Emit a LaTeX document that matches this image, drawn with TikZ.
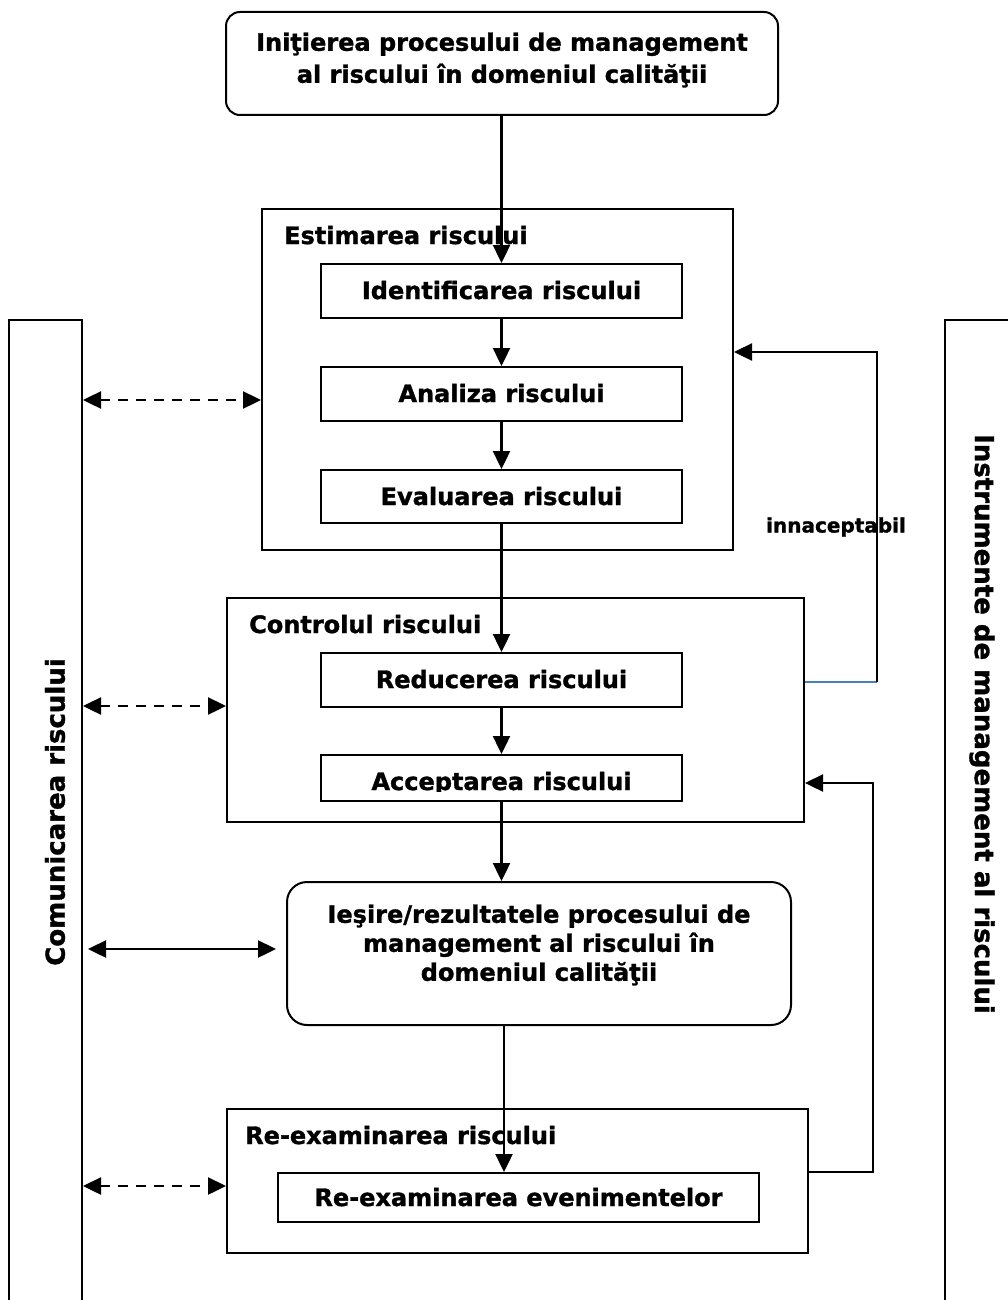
\documentclass[tikz,border=0pt]{standalone}
\usepackage{fontspec}
\setmainfont{DejaVu Sans}[BoldFeatures={FakeBold=1.3}]
\usetikzlibrary{arrows.meta}
\begin{document}
\begin{tikzpicture}[x=1pt,y=-1pt,
  box/.style={draw,line width=2pt,inner sep=0pt},
  rbox/.style={box,rounded corners=14pt},
  txt/.style={font=\fontsize{24}{30}\selectfont\bfseries,inner sep=0pt},
  arr/.style={line width=2.4pt,-{Triangle[length=18pt,width=17pt]}},
  darr/.style={line width=2.4pt,{Triangle[length=18pt,width=17pt]}-{Triangle[length=18pt,width=17pt]}},
  dashline/.style={dash pattern=on 10pt off 8pt}
]
\clip (0,0) rectangle (1008,1300);
\fill[white] (0,0) rectangle (1008,1300);

% top box
\node[rbox,minimum width=552pt,minimum height=103pt] (top) at (502,63.5) {};
\node[txt,align=center,font=\fontsize{24}{32}\selectfont\bfseries] (toptxt) at (502,60)
  {Iniţierea procesului de management\\al riscului în domeniul calităţii};

% Estimarea
\node[box,minimum width=471pt,minimum height=341pt] (est) at (497.5,379.5) {};
\node[txt,anchor=base west] (esttxt) at (284,244) {Estimarea riscului};
\node[box,minimum width=361pt,minimum height=54pt] (ident) at (501.5,291) {};
\node[txt,anchor=base] (identtxt) at (501.5,299) {Identificarea riscului};
\node[box,minimum width=361pt,minimum height=54pt] (anal) at (501.5,394) {};
\node[txt,anchor=base] (analtxt) at (501.5,402) {Analiza riscului};
\node[box,minimum width=361pt,minimum height=53pt] (eval) at (501.5,496.5) {};
\node[txt,anchor=base] (evaltxt) at (501.5,505) {Evaluarea riscului};

% Controlul
\node[box,minimum width=577pt,minimum height=224pt] (ctrl) at (515.5,710) {};
\node[txt,anchor=base west] (ctrltxt) at (249,633) {Controlul riscului};
\node[box,minimum width=361pt,minimum height=54pt] (reduc) at (501.5,680) {};
\node[txt,anchor=base] (reductxt) at (501.5,688) {Reducerea riscului};
\node[box,minimum width=361pt,minimum height=46pt] (accept) at (501.5,778) {};
\begin{scope}
\clip (321,755) rectangle (682,791);
\node[txt,anchor=base] (accepttxt) at (501.5,790) {Acceptarea riscului};
\end{scope}

% Iesire
\node[rbox,rounded corners=20pt,minimum width=504pt,minimum height=143pt] (iesire) at (539,953.5) {};
\node[txt,align=center,font=\fontsize{24}{29}\selectfont\bfseries] (iesiretxt) at (539,945)
  {Ieşire/rezultatele procesului de\\management al riscului în\\domeniul calităţii};

% Re-examinarea
\node[box,minimum width=581pt,minimum height=144pt] (reex) at (517.5,1181) {};
\node[txt,anchor=base west] (reextxt) at (245,1144) {Re-examinarea riscului};
\node[box,minimum width=481pt,minimum height=49pt] (reev) at (518.5,1197.5) {};
\node[txt,anchor=base] (reevtxt) at (518.5,1206) {Re-examinarea evenimentelor};

% side bars
\node[box,minimum width=73pt,minimum height=1000pt] (left) at (45.5,820) {};
\node[box,minimum width=80pt,minimum height=1000pt] (right) at (985,820) {};
\node[txt,font=\fontsize{26}{30}\selectfont\bfseries,rotate=90] (lefttxt) at (55,812) {Comunicarea riscului};
\node[txt,font=\fontsize{26}{30}\selectfont\bfseries,rotate=-90] (righttxt) at (982,724) {Instrumente de management al riscului};

% main flow
\draw[arr] (top.south -| ident.north) -- (ident.north);
\draw[arr] (ident) -- (anal);
\draw[arr] (anal) -- (eval);
\draw[arr] (eval.south) -- (reduc.north);
\draw[arr] (reduc) -- (accept);
\draw[arr] (accept.south) -- (accept.south |- iesire.north);
\draw[arr] ([xshift=-35pt]iesire.south) -- ([xshift=-35pt]iesire.south |- reev.north);

% feedback loops
\coordinate (fb1a) at (877,682);
\coordinate (fb1b) at (877,352);
\draw[line width=1.7pt,color={rgb,255:red,74;green,126;blue,187}] (ctrl.east |- fb1a) -- (fb1a);
\draw[arr] (fb1a) -- (fb1b) -- (est.east |- fb1b);
\node[txt,font=\fontsize{20}{24}\selectfont\bfseries] (inacc) at (836,527) {innaceptabil};

\coordinate (fb2a) at (873,1172);
\coordinate (fb2b) at (873,783);
\draw[arr] (reex.east |- fb2a) -- (fb2a) -- (fb2b) -- (ctrl.east |- fb2b);

% communication arrows
\draw[darr,dashline] (left.east |- 0,400) -- (est.west |- 0,400);
\draw[darr,dashline] (left.east |- 0,706) -- (ctrl.west |- 0,706);
\draw[darr] ([xshift=5pt]left.east |- 0,949) -- ([xshift=-10pt]iesire.west |- 0,949);
\draw[darr,dashline] (left.east |- 0,1186) -- (reex.west |- 0,1186);
\end{tikzpicture}
\end{document}
